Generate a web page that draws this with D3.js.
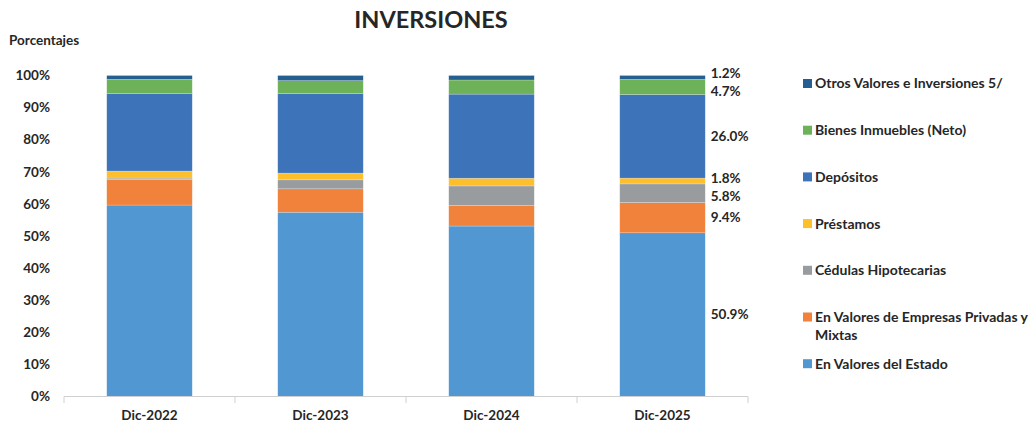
<!DOCTYPE html>
<html><head><meta charset="utf-8">
<script src="https://cdn.jsdelivr.net/npm/d3@7"></script>
<style>body{margin:0;background:#fff}svg{display:block;font-family:Lato,"Open Sans",sans-serif}</style>
</head><body><svg id="c" width="1036" height="426"></svg>
<script>
const categories = ["Dic-2022","Dic-2023","Dic-2024","Dic-2025"];
const seriesNames = ["En Valores del Estado","En Valores de Empresas Privadas y Mixtas","Cédulas Hipotecarias","Préstamos","Depósitos","Bienes Inmuebles (Neto)","Otros Valores e Inversiones 5/"];
const estado    = [59.7, 57.4, 53.1, 50.9];
const empresas  = [8.0, 7.3, 6.4, 9.4];
const cedulas   = [0.4, 2.8, 6.1, 5.8];
const prestamos = [2.2, 2.1, 2.4, 1.8];
const depositos = [24.2, 24.8, 26.2, 26.0];
const bienes    = [4.4, 4.0, 4.4, 4.7];
const otros     = [1.2, 1.6, 1.4, 1.2];
const colors = ["#5197d2","#f0823b","#999c9e","#fdbf2b","#3d73b9","#6db158","#255e91"];
const yTicks = [0,10,20,30,40,50,60,70,80,90,100];
const labeledIndex = 3;

const seriesVals = [estado, empresas, cedulas, prestamos, depositos, bienes, otros];
const rows = categories.map((c,i)=>{const r={cat:c}; seriesNames.forEach((s,k)=>r[s]=seriesVals[k][i]); return r;});
const stack = d3.stack().keys(seriesNames).offset(d3.stackOffsetExpand)(rows);

const svg = d3.select("#c");
const x = d3.scaleBand().domain(categories).range([64,748]).paddingInner(0.5).paddingOuter(0.25);
const y = d3.scaleLinear().domain([0,1]).range([396.5,75.5]);
const txt = "#262626";

svg.append("text").attr("x",431).attr("y",28).attr("text-anchor","middle")
  .attr("font-size",23.5).attr("font-weight",700).attr("fill",txt).text("INVERSIONES");
svg.append("text").attr("x",9).attr("y",45).attr("font-size",13.5).attr("font-weight",700).attr("fill",txt).text("Porcentajes");

// y labels
svg.append("g").selectAll("text").data(yTicks).join("text")
  .attr("x",50).attr("y",d=>y(d/100)).attr("dy","0.35em").attr("text-anchor","end")
  .attr("font-size",13.5).attr("font-weight",700).attr("fill",txt).text(d=>d+"%");

// bars
svg.append("g").selectAll("g").data(stack).join("g").attr("fill",(d,i)=>colors[i])
  .selectAll("rect").data(d=>d).join("rect")
  .attr("x",d=>x(d.data.cat)).attr("width",x.bandwidth())
  .attr("y",d=>y(d[1])).attr("height",d=>y(d[0])-y(d[1]))
  .attr("stroke","rgba(255,255,255,0.35)").attr("stroke-width",0.6);

// x axis
const xa = svg.append("g");
xa.append("line").attr("x1",64).attr("x2",748).attr("y1",396.5).attr("y2",396.5).attr("stroke","#d0d0d0");
const bounds = [64].concat(categories.map(c=>x(c)+x.bandwidth()+x.step()*0.25));
xa.selectAll("line.t").data(bounds).join("line").attr("class","t")
  .attr("x1",d=>d).attr("x2",d=>d).attr("y1",396.5).attr("y2",403).attr("stroke","#d0d0d0");
xa.selectAll("text").data(categories).join("text")
  .attr("x",d=>x(d)+x.bandwidth()/2).attr("y",415).attr("dy","0.35em").attr("text-anchor","middle")
  .attr("font-size",13.5).attr("font-weight",700).attr("fill",txt).text(d=>d);

// data labels for last bar, with simple overlap relaxation
const cat = categories[labeledIndex];
let labs = stack.map((s,k)=>({v:seriesVals[k][labeledIndex], y:(y(s[labeledIndex][0])+y(s[labeledIndex][1]))/2}));
labs.sort((a,b)=>a.y-b.y);
const gap = 18;
for(let it=0;it<50;it++){
  for(let i=1;i<labs.length;i++){
    const d = labs[i].y-labs[i-1].y;
    if(d<gap){const m=(gap-d)/2; labs[i].y+=m; labs[i-1].y-=m;}
  }
}
svg.append("g").selectAll("text").data(labs).join("text")
  .attr("x",x(cat)+x.bandwidth()+5.5).attr("y",d=>d.y).attr("dy","0.35em")
  .attr("font-size",13.5).attr("font-weight",700).attr("fill",txt).text(d=>d.v.toFixed(1)+"%");

// legend
const legendOrder = seriesNames.map((s,i)=>({s,i})).reverse();
const lg = svg.append("g");
legendOrder.forEach((d,j)=>{
  const yy = 83.5 + j*46.7;
  lg.append("rect").attr("x",803).attr("y",yy-4.5).attr("width",9).attr("height",9).attr("fill",colors[d.i]);
  const t = lg.append("text").attr("x",815).attr("y",yy).attr("dy","0.35em")
    .attr("font-size",14).attr("font-weight",700).attr("fill",txt);
  if(d.s==="En Valores de Empresas Privadas y Mixtas"){
    t.append("tspan").attr("x",815).text("En Valores de Empresas Privadas y");
    t.append("tspan").attr("x",815).attr("dy","1.3em").text("Mixtas");
  } else t.text(d.s);
});
</script></body></html>
